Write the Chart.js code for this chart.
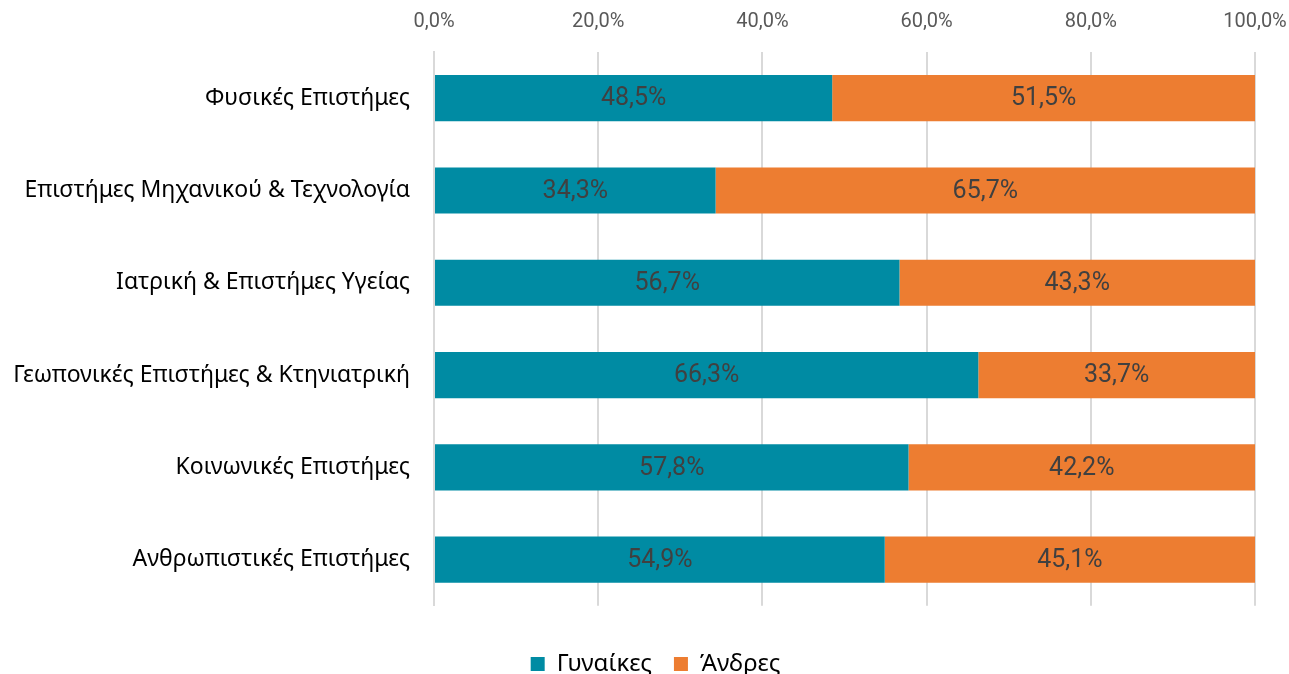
<!DOCTYPE html>
<html>
<head>
<meta charset="utf-8">
<script src="https://cdn.jsdelivr.net/npm/chart.js@4"></script>
<style>
  html, body { margin: 0; padding: 0; background: #fff; }
  #wrap { width: 1289px; height: 674px; position: relative; }
</style>
</head>
<body>
<div id="wrap"><canvas id="chart"></canvas></div>
<script>
const categories = [
  "Φυσικές Επιστήμες",
  "Επιστήμες Μηχανικού & Τεχνολογία",
  "Ιατρική & Επιστήμες Υγείας",
  "Γεωπονικές Επιστήμες & Κτηνιατρική",
  "Κοινωνικές Επιστήμες",
  "Ανθρωπιστικές Επιστήμες",
];
const women = [48.5, 34.3, 56.7, 66.3, 57.8, 54.9];
const men = [51.5, 65.7, 43.3, 33.7, 42.2, 45.1];
const seriesNames = ["Γυναίκες", "Άνδρες"];

const fmt = (v) => v.toFixed(1).replace(".", ",") + "%";

// draws the value in the middle of each bar segment
const barLabels = {
  id: "barLabels",
  afterDatasetsDraw(chart) {
    const ctx = chart.ctx;
    ctx.save();
    ctx.font = "25px Roboto";
    ctx.fillStyle = "#404040";
    ctx.textAlign = "center";
    ctx.textBaseline = "middle";
    chart.data.datasets.forEach((ds, i) => {
      chart.getDatasetMeta(i).data.forEach((bar, j) => {
        const cx = (bar.x + bar.base) / 2;
        ctx.fillText(fmt(ds.data[j]), cx, bar.y + 1);
      });
    });
    ctx.restore();
  },
};

// nudge the legend a bit right, the original is centred on the page
const legendShift = {
  id: "legendShift",
  afterLayout(chart) {
    chart.legend.left += 28;
    chart.legend.right += 28;
  },
};

chart = new Chart(document.getElementById("chart").getContext("2d"), {
  type: "bar",
  data: {
    labels: categories,
    datasets: [
      { label: seriesNames[0], data: women, backgroundColor: "#008ba3" },
      { label: seriesNames[1], data: men, backgroundColor: "#ed7d31" },
    ],
  },
  options: {
    indexAxis: "y",
    responsive: true,
    maintainAspectRatio: false,
    animation: false,
    layout: { padding: { left: 0, right: 34, top: 0, bottom: -12 } },
    datasets: { bar: { barPercentage: 0.5, categoryPercentage: 1 } },
    scales: {
      x: {
        position: "top",
        stacked: true,
        min: 0,
        max: 100,
        ticks: {
          stepSize: 20,
          color: "#595959",
          font: { family: "Roboto", size: 20 },
          padding: 18,
          callback: (v) => fmt(v),
        },
        grid: { color: "#d9d9d9", lineWidth: 2, drawTicks: false },
        border: { display: false },
        afterFit: (s) => {
          s.height = 52;
          s.paddingLeft = 0;
          s.paddingRight = 0;
        },
      },
      y: {
        stacked: true,
        ticks: {
          color: "#000",
          font: { family: "Noto Sans", size: 23 },
          padding: 16,
        },
        grid: { display: false },
        border: { color: "#d9d9d9", width: 2 },
        afterFit: (s) => { s.width = 434; },
      },
    },
    plugins: {
      legend: {
        position: "bottom",
        title: { display: true, text: "", font: { size: 1 }, padding: { top: 23, bottom: 0 } },
        labels: {
          boxWidth: 14,
          boxHeight: 14,
          padding: 22,
          color: "#000",
          font: { family: "Noto Sans", size: 24 },
        },
      },
      tooltip: { enabled: false },
    },
  },
  plugins: [barLabels, legendShift],
});
</script>
</body>
</html>
